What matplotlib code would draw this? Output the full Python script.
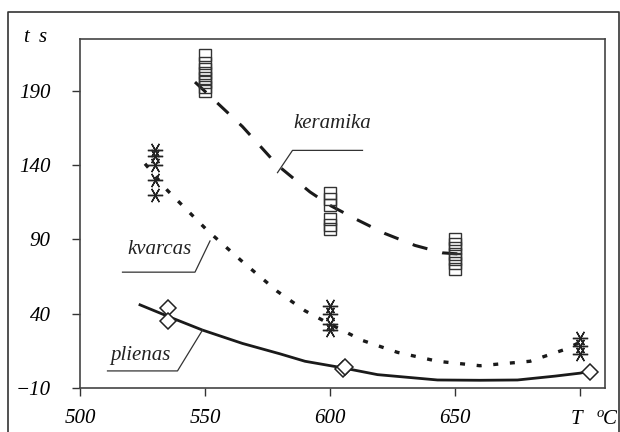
import numpy as np
import matplotlib.pyplot as plt
from matplotlib.lines import Line2D

# measured points (T, t)
ker_T = [550]*8 + [600]*6 + [650]*7
ker_t = [190, 193, 196, 199, 202, 205, 209, 214,
         121, 117, 113, 104, 100, 97,
         90, 87, 84, 80, 77, 74, 70]
kv_T = [530]*5 + [600]*4 + [700]*3
kv_t = [150, 146, 140, 130, 120,
        45, 40, 33, 29,
        24, 18, 13]
pl_T = [535, 535, 605, 606, 704]
pl_t = [44, 35, 3, 4, 1]

# fitted curves
ker_cx = [546, 553, 565, 579, 592, 600, 610, 622, 634, 645, 654]
ker_cy = [196, 185, 166, 140, 122, 113, 104, 94, 86, 81, 80]
kv_cx = [526, 535, 551, 565, 579, 590, 600, 613, 627, 643, 660, 680, 694, 699]
kv_cy = [141, 123, 96, 75, 55, 42, 33, 22, 14, 8, 5, 8, 16, 20]
pl_cx = [524, 537, 549, 565, 580, 590, 605, 619, 643, 660, 675, 690, 700, 703]
pl_cy = [46, 37, 29, 20, 13, 8, 3.6, -1, -4.6, -4.8, -4.6, -2, 0, 1]

xticks = [500, 550, 600, 650, 700]
xlabels = ['500', '550', '600', '650', '']
yticks = [-10, 40, 90, 140, 190]
ylabels = ['\u221210', '40', '90', '140', '190']

plt.rcParams['font.family'] = 'Liberation Serif'
plt.rcParams['mathtext.fontset'] = 'custom'
plt.rcParams['mathtext.it'] = 'Liberation Serif:italic'
plt.rcParams['mathtext.rm'] = 'Liberation Serif:italic'

fig = plt.figure(figsize=(6.2, 4.32), dpi=100)
ax = fig.add_axes([80/620, 44/432, 525/620, 349/432])
ax.set_xlim(500, 710)
ax.set_ylim(-10, 225)

col = '#1a1a1a'
ax.plot(ker_cx, ker_cy, color=col, lw=2.2, ls=(0, (5, 5)))
ax.plot(kv_cx, kv_cy, color=col, lw=2.4, ls=(0, (1.5, 3.5)))
ax.plot(pl_cx, pl_cy, color=col, lw=2.0)

ax.plot(ker_T, ker_t, ls='none', marker='s', ms=9, mfc='none', mec='#333', mew=1.0)
ax.plot(kv_T, kv_t, ls='none', marker=(6, 2, 30), ms=11, mec='#222', mew=1.0)
ax.plot(pl_T, pl_t, ls='none', marker='D', ms=8, mfc='white', mec='#222', mew=1.1)

# labels with leader lines
lk = dict(fontsize=15, style='italic', color='#222')
ax.text(601, 168, 'keramika', ha='center', va='center', **lk)
ax.plot([613, 585, 579], [150, 150, 135], color='#333', lw=0.9)
ax.text(532, 83, 'kvarcas', ha='center', va='center', **lk)
ax.plot([552, 546, 517], [89, 68, 68], color='#333', lw=0.9)
ax.text(524, 12, 'plienas', ha='center', va='center', **lk)
ax.plot([549, 539, 511], [29, 1.5, 1.5], color='#333', lw=0.9)

ax.set_xticks(xticks)
ax.set_xticklabels(xlabels)
ax.set_yticks(yticks)
ax.set_yticklabels(ylabels)
ax.tick_params(direction='out', length=6, width=1, color='#333', labelsize=15)
ax.tick_params(axis='y', pad=15)
ax.tick_params(axis='x', pad=9)
for lab in ax.get_xticklabels() + ax.get_yticklabels():
    lab.set_style('italic')
for s in ax.spines.values():
    s.set_linewidth(1.2)
    s.set_color('#444')

fig.text(36/620, 1 - 37/432, r'$t\ \ s$', fontsize=15, ha='center', va='center')
fig.text(594/620, 1 - 419/432, r'$T\ \ \ ^{o}\!C$', fontsize=15, ha='center', va='center')

# outer frame
fig.add_artist(Line2D([8/620, 8/620, 619/620, 619/620], [0, 1 - 12/432, 1 - 12/432, 0],
                      transform=fig.transFigure, color='#333', lw=1.2))

fig.savefig('out.png', dpi=100)
